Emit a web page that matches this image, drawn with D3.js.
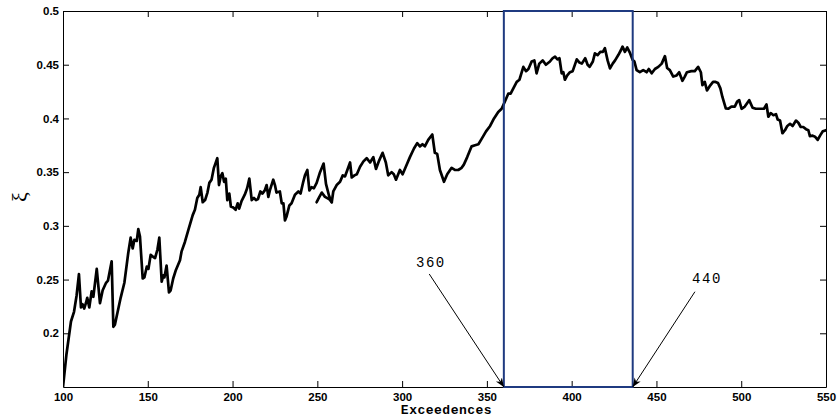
<!DOCTYPE html>
<html>
<head>
<meta charset="utf-8">
<script src="https://cdn.jsdelivr.net/npm/d3@7"></script>
<style>
  html, body { margin: 0; padding: 0; background: #fff; }
  svg { display: block; }
</style>
</head>
<body>
<svg id="chart" width="837" height="418"></svg>
<script>
// ---- data ----
const seg1X = [100,102,104.7,106.5,108,109.4,110.6,111.5,112.5,113.5,114.3,115.5,116.9,117.9,119.9,121.8,123.4,125.4,126.5,128.7,129.7,130.6,134,136.2,138.5,139.9,141.1,142.1,143.5,144.4,145.4,147,148,149.4,150.4,151.7,153.3,154.3,155.7,156.8,158.2,159.2,159.8,161.1,162.5,163.5,165,166.6,169,169.9,171.9,173.9,176.5,177.8,179.2,180.4,181.2,182.4,183.8,185.2,186.3,187.6,189,191,192,193,194,195,196,196.9,198.1,199,200.4,201.8,203,203.9,205.3,207.2,208.6,209.9,211.3,212.6,213.8,215,216.4,217.6,219,220.1,221.1,222,224,225,225.9,227.9,229,230,230.9,231.9,233.5,234.8,236.8,238.8,240.1,241.7,242.7,244.1,245.3,246.6,248,249.6,251.6,253.7,255.1,256.9,258.5];
const seg1Y = [0.150,0.180,0.211,0.220,0.235,0.255,0.224,0.227,0.223,0.228,0.233,0.224,0.239,0.234,0.260,0.228,0.240,0.247,0.249,0.267,0.206,0.208,0.233,0.247,0.275,0.289,0.279,0.287,0.286,0.297,0.290,0.251,0.252,0.262,0.260,0.273,0.271,0.270,0.278,0.289,0.248,0.254,0.252,0.263,0.238,0.240,0.251,0.259,0.268,0.276,0.285,0.296,0.310,0.315,0.326,0.329,0.336,0.322,0.324,0.331,0.340,0.343,0.354,0.363,0.338,0.346,0.349,0.341,0.344,0.324,0.330,0.318,0.317,0.315,0.321,0.316,0.323,0.329,0.335,0.344,0.324,0.326,0.324,0.325,0.332,0.330,0.333,0.338,0.327,0.333,0.343,0.338,0.331,0.332,0.321,0.321,0.305,0.309,0.319,0.321,0.329,0.332,0.330,0.341,0.347,0.352,0.333,0.336,0.335,0.340,0.350,0.358,0.339,0.328,0.322];

const seg2X = [249.6,251.2,252.6,254.5,256.9,258.5,259.4,261.4,263.4,265,266.3,267.7,269.3,270.3,271.9,273.3,275.2,277.2,279.1,281.1,283,284.6,286.5,288.5,290.4,291.8,293.8,295.1,296.4,298.7,300.3,303,304.6,307,308.9,310.5,312,313.4,315.4,317.8,319.3,320.7,322.3,324.7,326.6,329.2,331.1,333.1,335.1,336.4,338.4,341,343,345,346.9,349.5,351.9,354.2,356.7,358.7,360.7,362.6,364,365.6,367.6,369.2,371.5,373.1,374.5,376.4,378,379.3,380.9,382.9,384.8,387.2,388.7,390.2,391.6,392.8,394.1,395.1,396,397.4,399,400.6,403,404.6,406,408,409.4,410.6,412.5,413.7,415.3,416.9,418.4,419.6,421.2,422.6,424.2,425.6,427.5,429.1,430,431.4,432.8,434.4,436,437,438.3,440.2,442.2,444.2,445.5,447.2,449.1,451.1,453.1,455,456.3,457.9,459.9,461.9,463.4,465.3,466.7,468,470.6,472.6,474.6,476.2,477.1,478.5,479.8,481.4,483.4,484.9,486.3,487.7,488.9,490.9,492.3,494.2,496.2,497.6,498.8,500.2,502.1,504.7,506.7,508.6,511,513.4,514.9,516,517.4,519,520.5,521.5,522.9,524.3,525.8,527.2,528.8,530.3,532.3,533.7,535.1,536.6,538.2,539.6,540.5,542.1,543.5,545.1,546.5,548.1,550];
const seg2Y = [0.322,0.327,0.331,0.327,0.325,0.322,0.332,0.338,0.341,0.347,0.346,0.352,0.359,0.345,0.347,0.348,0.355,0.360,0.363,0.359,0.364,0.353,0.361,0.368,0.359,0.347,0.350,0.348,0.343,0.352,0.348,0.358,0.364,0.372,0.377,0.374,0.376,0.374,0.380,0.385,0.368,0.367,0.352,0.341,0.348,0.354,0.352,0.352,0.354,0.357,0.364,0.374,0.375,0.376,0.381,0.388,0.393,0.400,0.406,0.409,0.416,0.423,0.423,0.428,0.434,0.436,0.448,0.444,0.446,0.453,0.454,0.442,0.451,0.454,0.450,0.453,0.456,0.4575,0.455,0.456,0.442,0.443,0.436,0.440,0.443,0.444,0.455,0.452,0.451,0.456,0.450,0.448,0.453,0.4606,0.459,0.462,0.462,0.4653,0.454,0.4466,0.451,0.454,0.459,0.4637,0.4668,0.462,0.466,0.461,0.4544,0.453,0.445,0.443,0.445,0.443,0.446,0.442,0.446,0.448,0.451,0.458,0.447,0.445,0.439,0.440,0.443,0.435,0.439,0.443,0.444,0.444,0.448,0.443,0.431,0.434,0.426,0.430,0.434,0.434,0.433,0.428,0.420,0.4094,0.409,0.411,0.411,0.4156,0.417,0.409,0.411,0.417,0.410,0.409,0.409,0.409,0.413,0.4016,0.405,0.403,0.404,0.399,0.398,0.3862,0.389,0.393,0.395,0.393,0.398,0.396,0.392,0.392,0.390,0.389,0.3836,0.384,0.383,0.380,0.384,0.388,0.389];

const xTicks = [100,150,200,250,300,350,400,450,500,550];
const yTicks = [0.2,0.25,0.3,0.35,0.4,0.45,0.5];
const yTickLabels = ["0.2","0.25","0.3","0.35","0.4","0.45","0.5"];

const windowRange = [360, 436];       // highlighted block of exceedences
const annotLabels = ["360", "440"];
const annotFrom = [[316, 0.2552], [472.7, 0.2387]];   // arrow tails (data coords)
const annotTo = [[360, 0.15], [436, 0.15]];           // arrow heads (data coords)
const annotText = [[317, 0.2617], [479.8, 0.2468]];   // label anchor (data coords)

const xLabel = "Exceedences";
const yLabel = "ξ";

// ---- layout ----
const W = 837, H = 418;
const M = {left: 63, right: 11, top: 11, bottom: 31};
const x = d3.scaleLinear().domain([100, 550]).range([M.left, W - M.right]);
const y = d3.scaleLinear().domain([0.15, 0.5]).range([H - M.bottom, M.top]);

const svg = d3.select("#chart");

svg.append("defs").append("clipPath").attr("id", "plotclip")
  .append("rect")
  .attr("x", M.left).attr("y", M.top - 2)
  .attr("width", W - M.left - M.right).attr("height", H - M.top - M.bottom + 2);

const marker = svg.select("defs").append("marker")
  .attr("id", "arrow").attr("viewBox", "0 0 10 10")
  .attr("refX", 10).attr("refY", 5)
  .attr("markerWidth", 9).attr("markerHeight", 9)
  .attr("markerUnits", "userSpaceOnUse")
  .attr("orient", "auto");
marker.append("path").attr("d", "M0,1 L10,5 L0,9 L3,5 Z").attr("fill", "#000");

const tickFont = "'Liberation Sans', Arial, Helvetica, sans-serif";

function styleAxis(g) {
  g.selectAll("path.domain").attr("stroke", "#000").attr("stroke-width", 1);
  g.selectAll(".tick line").attr("stroke", "#000").attr("stroke-width", 1);
  g.selectAll(".tick text").attr("fill", "#000")
    .style("font-family", tickFont).style("font-weight", "bold").style("font-size", "11.5px");
}

// bottom axis
svg.append("g").attr("transform", `translate(0,${H - M.bottom})`)
  .call(d3.axisBottom(x).tickValues(xTicks).tickSizeInner(-6).tickSizeOuter(0).tickPadding(5.5).tickFormat(d3.format("d")))
  .call(styleAxis);
// top axis
svg.append("g").attr("transform", `translate(0,${M.top})`)
  .call(d3.axisTop(x).tickValues(xTicks).tickSizeInner(-6).tickSizeOuter(0).tickFormat(""))
  .call(styleAxis);
// left axis
svg.append("g").attr("transform", `translate(${M.left},0)`)
  .call(d3.axisLeft(y).tickValues(yTicks).tickSizeInner(-6).tickSizeOuter(0).tickPadding(4)
    .tickFormat((d, i) => yTickLabels[i]))
  .call(styleAxis);
// right axis
svg.append("g").attr("transform", `translate(${W - M.right},0)`)
  .call(d3.axisRight(y).tickValues(yTicks).tickSizeInner(-6).tickSizeOuter(0).tickFormat(""))
  .call(styleAxis);

// data line
const line = d3.line().x(d => x(d[0])).y(d => y(d[1]));
const seg1 = seg1X.map((v, i) => [v, seg1Y[i]]);
const seg2 = seg2X.map((v, i) => [v, seg2Y[i]]);
const plot = svg.append("g").attr("clip-path", "url(#plotclip)");
[seg1, seg2].forEach(s => {
  plot.append("path").datum(s)
    .attr("d", line)
    .attr("fill", "none")
    .attr("stroke", "#000")
    .attr("stroke-width", 2.7)
    .attr("stroke-linejoin", "round")
    .attr("stroke-linecap", "round");
});

// highlight window rectangle
svg.append("rect")
  .attr("x", x(windowRange[0])).attr("y", y(0.5))
  .attr("width", x(windowRange[1]) - x(windowRange[0]))
  .attr("height", y(0.15) - y(0.5))
  .attr("fill", "none").attr("stroke", "#1f3a80").attr("stroke-width", 2);

// annotations
annotLabels.forEach((lab, i) => {
  svg.append("line")
    .attr("x1", x(annotFrom[i][0])).attr("y1", y(annotFrom[i][1]))
    .attr("x2", x(annotTo[i][0])).attr("y2", y(annotTo[i][1]))
    .attr("stroke", "#000").attr("stroke-width", 1)
    .attr("marker-end", "url(#arrow)");
  svg.append("text")
    .attr("x", x(annotText[i][0])).attr("y", y(annotText[i][1]))
    .attr("text-anchor", "middle")
    .style("font-family", "'Liberation Mono', 'DejaVu Sans Mono', monospace")
    .style("font-size", "14px")
    .style("letter-spacing", "1.5px")
    .attr("fill", "#000")
    .text(lab);
});

// axis labels
svg.append("text")
  .attr("x", (x(100) + x(550)) / 2 + 2).attr("y", 414)
  .attr("text-anchor", "middle")
  .style("font-family", "'Liberation Mono', 'DejaVu Sans Mono', monospace")
  .style("font-weight", "bold").style("font-size", "13px")
  .style("letter-spacing", "0.5px")
  .attr("fill", "#000")
  .text(xLabel);

svg.append("text")
  .attr("transform", `translate(27,197) rotate(-90)`)
  .attr("text-anchor", "middle")
  .style("font-family", "'Liberation Serif', 'DejaVu Serif', serif")
  .style("font-size", "22px")
  .attr("fill", "#000")
  .text(yLabel);
</script>
</body>
</html>
